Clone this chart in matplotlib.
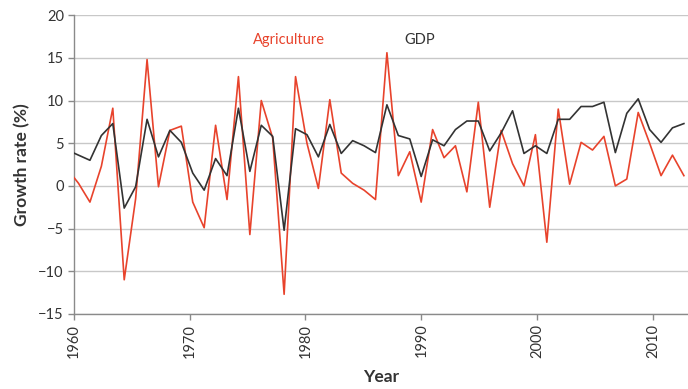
import matplotlib
matplotlib.use("Agg")
import matplotlib.pyplot as plt

# ---- data ----------------------------------------------------------------

YEARS = list(range(1960, 2015))

GDP = [4.2, 3.6, 3.0, 5.9, 7.3, -2.6, -0.1, 7.8, 3.4, 6.5,
       5.1, 1.5, -0.5, 3.2, 1.2, 9.1, 1.7, 7.1, 5.8, -5.2,
       6.7, 6.0, 3.4, 7.2, 3.8, 5.3, 4.7, 3.9, 9.5, 5.9,
       5.5, 1.1, 5.4, 4.7, 6.6, 7.6, 7.6, 4.1, 6.2, 8.8,
       3.8, 4.7, 3.8, 7.8, 7.8, 9.3, 9.3, 9.8, 3.9, 8.5,
       10.2, 6.6, 5.1, 6.8, 7.3]

AGRICULTURE = [2.0, 0.3, -1.9, 2.3, 9.1, -11.0, -1.5, 14.8, -0.1, 6.5,
               7.0, -1.9, -4.9, 7.1, -1.6, 12.8, -5.7, 10.0, 5.6, -12.7,
               12.8, 5.0, -0.3, 10.1, 1.5, 0.3, -0.5, -1.6, 15.6, 1.2,
               4.0, -1.9, 6.6, 3.3, 4.7, -0.7, 9.8, -2.5, 6.5, 2.6,
               0.0, 6.0, -6.6, 9.0, 0.2, 5.1, 4.2, 5.8, 0.0, 0.8,
               8.6, 5.0, 1.2, 3.6, 1.2]

TICK_YEARS = [1960, 1970, 1980, 1990, 2000, 2010]
Y_TICKS = [-15, -10, -5, 0, 5, 10, 15, 20]

# the printed axis is not quite aligned with the yearly points
AXIS_START = 1960.57
AXIS_END = 2014.36
TICK_STEP = 1.015

RED = "#e8432c"
DARK = "#333333"


def main() -> None:
    plt.rcParams["font.family"] = ["Lato", "DejaVu Sans"]

    fig = plt.figure(figsize=(6.88, 3.89), dpi=100)
    ax = fig.add_axes([0.107, 0.193, 0.893, 0.768])

    ax.plot(YEARS, AGRICULTURE, color=RED, lw=1.2, zorder=3)
    ax.plot(YEARS, GDP, color=DARK, lw=1.2, zorder=4)

    ax.set_xlim(AXIS_START, AXIS_END)
    ax.set_ylim(-15, 20)

    ax.set_xticks([AXIS_START + (y - 1960) * TICK_STEP for y in TICK_YEARS])
    ax.set_xticklabels([str(y) for y in TICK_YEARS], rotation=90,
                       fontsize=10.5, color="#333333")
    ax.set_yticks(Y_TICKS)
    ax.set_yticklabels([str(v).replace("-", "\u2212") for v in Y_TICKS],
                       fontsize=10.5, color="#333333")

    ax.grid(axis="y", color="#c8c8c8", lw=1.0, zorder=0)
    ax.set_axisbelow(True)
    for side in ("top", "right"):
        ax.spines[side].set_visible(False)
    for side in ("left", "bottom"):
        ax.spines[side].set_color("#8a8a8a")
        ax.spines[side].set_linewidth(1.0)
    ax.tick_params(axis="both", length=4, width=1.0, color="#8a8a8a", pad=3)

    ax.set_xlabel("Year", fontsize=12.5, fontweight="bold", color="#333333",
                  labelpad=8)
    ax.set_ylabel("Growth rate (%)", fontsize=12.5, fontweight="bold",
                  color="#333333", labelpad=6)

    ax.text(0.35, 0.917, "Agriculture", transform=ax.transAxes, color=RED,
            fontsize=10.5, ha="center", va="center")
    ax.text(0.563, 0.917, "GDP", transform=ax.transAxes, color=DARK,
            fontsize=10.5, ha="center", va="center")

    fig.savefig("out.png", dpi=100)
    plt.close(fig)


if __name__ == "__main__":
    main()
